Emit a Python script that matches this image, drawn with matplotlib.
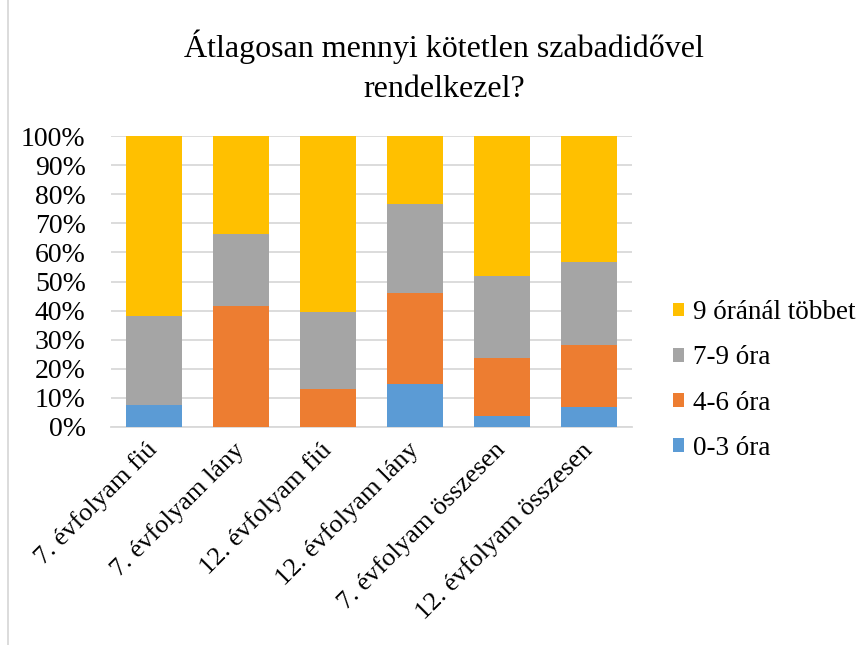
import numpy as np
import matplotlib.pyplot as plt
from matplotlib.lines import Line2D

plt.rcParams['font.family'] = ['Liberation Serif', 'DejaVu Serif']

categories = ['7. évfolyam fiú', '7. évfolyam lány', '12. évfolyam fiú',
              '12. évfolyam lány', '7. évfolyam összesen', '12. évfolyam összesen']
series = ['0-3 óra', '4-6 óra', '7-9 óra', '9 óránál többet']
h0_3 = [7.4, 0.0, 0.0, 14.9, 3.7, 6.8]
h4_6 = [0.0, 41.5, 13.0, 31.1, 20.0, 21.5]
h7_9 = [30.6, 24.8, 26.7, 30.7, 28.1, 28.5]
h9_plus = [62.0, 33.7, 60.3, 23.3, 48.2, 43.2]
colors = ['#5b9bd5', '#ed7d31', '#a5a5a5', '#ffc000']

fig = plt.figure(figsize=(8.65, 6.45), dpi=100)
ax = fig.add_axes([0.128, 0.338, 0.603, 0.451])

x = np.arange(len(categories))
bottom = np.zeros(len(categories))
for name, vals, c in zip(series, [h0_3, h4_6, h7_9, h9_plus], colors):
    vals = np.array(vals)
    ax.bar(x, vals, 0.64, bottom=bottom, color=c, label=name, zorder=3)
    bottom += vals

ax.set_ylim(0, 100)
ax.set_xlim(-0.5, len(categories) - 0.5)
ax.set_yticks(np.arange(0, 101, 10))
ax.set_yticklabels([f'{v}%' for v in range(0, 101, 10)], fontsize=20)
ax.set_xticks(x)
ax.set_xticklabels(categories, rotation=45, ha='right', va='center',
                   rotation_mode='anchor', fontsize=19)
ax.tick_params(axis='y', length=0, pad=18)
ax.tick_params(axis='x', length=0, pad=14)
ax.grid(axis='y', color='#d9d9d9', lw=1.3, zorder=0)
for s in ['top', 'right', 'left']:
    ax.spines[s].set_visible(False)
ax.spines['bottom'].set_color('#d9d9d9')
ax.spines['bottom'].set_linewidth(1.3)

fig.suptitle('Átlagosan mennyi kötetlen szabadidővel\nrendelkezel?', fontsize=23,
             x=0.513, y=0.955, linespacing=1.5)

h, l = ax.get_legend_handles_labels()
fig.legend(h[::-1], l[::-1], loc='center left', bbox_to_anchor=(0.75, 0.41),
           frameon=False, fontsize=19.5, handlelength=0.4, handleheight=0.4,
           handletextpad=0.35, labelspacing=0.75)

fig.add_artist(Line2D([0.009, 0.009], [0, 1], transform=fig.transFigure,
                      color='#d9d9d9', lw=1.3))

fig.savefig('out.png', dpi=100)
